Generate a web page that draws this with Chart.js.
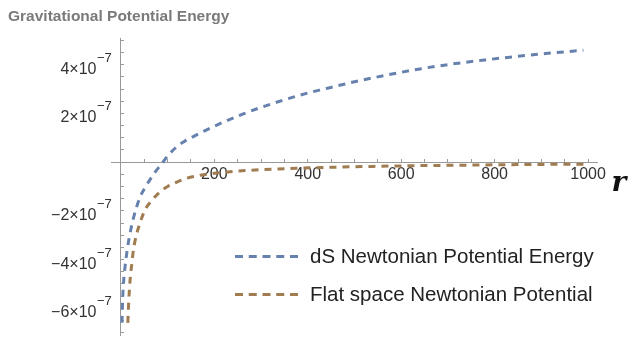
<!DOCTYPE html>
<html>
<head>
<meta charset="utf-8">
<script src="https://cdn.jsdelivr.net/npm/chart.js@4.4.1/dist/chart.umd.min.js"></script>
<style>
  html, body { margin: 0; padding: 0; background: #fff; }
  #wrap { width: 636px; height: 338px; }
</style>
</head>
<body>
<div id="wrap"><canvas id="potentialChart"></canvas></div>
<script>
// chart text
const chartTitle = "Gravitational Potential Energy";
const seriesNames = ["dS Newtonian Potential Energy", "Flat space Newtonian Potential"];
const seriesColors = ["#6781ae", "#a07c50"];
const xAxisLabel = "r";

// dS curve
const dsR = [2.5, 4, 6, 9, 13, 18, 27, 41, 55, 70, 90, 100, 120, 135, 150, 184, 220, 262, 300, 348, 400, 434, 500, 570, 640, 712, 780, 855, 920, 990];
const dsEnergy = [-6.6e-7, -5.6e-7, -4.9e-7, -4.3e-7, -3.7e-7, -3.1e-7, -2.3e-7, -1.45e-7, -0.95e-7, -0.5e-7, 0, 0.25e-7, 0.64e-7, 0.84e-7, 1.0e-7, 1.33e-7, 1.65e-7, 1.98e-7, 2.25e-7, 2.55e-7, 2.84e-7, 3.0e-7, 3.3e-7, 3.58e-7, 3.83e-7, 4.04e-7, 4.2e-7, 4.36e-7, 4.48e-7, 4.6e-7];

// flat space curve
const flatR = [15, 17, 20, 24, 27, 34, 41, 52, 63, 84, 100, 120, 141, 170, 200, 250, 300, 377, 450, 550, 650, 750, 850, 1000];
const flatEnergy = [-6.6e-7, -5.7e-7, -4.8e-7, -4.1e-7, -3.6e-7, -2.95e-7, -2.5e-7, -1.95e-7, -1.65e-7, -1.22e-7, -1.0e-7, -0.82e-7, -0.66e-7, -0.54e-7, -0.46e-7, -0.37e-7, -0.31e-7, -0.25e-7, -0.21e-7, -0.17e-7, -0.14e-7, -0.12e-7, -0.1e-7, -0.08e-7];

// tick labels
const xTickLabels = [200, 400, 600, 800, 1000];
const yTickValues = [-6e-7, -4e-7, -2e-7, 2e-7, 4e-7];
const yTickText = ["\u22126\u00d710", "\u22124\u00d710", "\u22122\u00d710", "2\u00d710", "4\u00d710"];
const yTickExp = "\u22127";

const FONT = "'Liberation Sans', Arial, sans-serif";

function toPoints(xs, ys) {
    return xs.map((x, i) => ({ x: x, y: ys[i] }));
}

// title, y labels with superscripts, axis label and legend
const overlayPlugin = {
    id: "overlay",
    afterDraw(chart) {
        const ctx = chart.ctx;
        const xs = chart.scales.x;
        const ys = chart.scales.y;
        const x0 = xs.getPixelForValue(0);
        const y0 = ys.getPixelForValue(0);
        ctx.save();

        ctx.font = "bold 15.5px " + FONT;
        ctx.fillStyle = "#7a7a7a";
        ctx.textAlign = "left";
        ctx.textBaseline = "alphabetic";
        ctx.fillText(chartTitle, 8, 21);

        ctx.fillStyle = "#333";
        ctx.textAlign = "right";
        yTickValues.forEach((v, i) => {
            const py = ys.getPixelForValue(v);
            const right = x0 - 9;
            ctx.font = "13px " + FONT;
            const expW = ctx.measureText(yTickExp).width;
            ctx.fillText(yTickExp, right, py - 3);
            ctx.font = "16px " + FONT;
            ctx.fillText(yTickText[i], right - expW - 0.5, py + 9);
        });

        // r label at the right end of the x axis
        ctx.font = "italic bold 28px 'DejaVu Serif', serif";
        ctx.fillStyle = "#111";
        ctx.textAlign = "center";
        ctx.fillText(xAxisLabel, chart.chartArea.right + 22, y0 + 29);

        // legend
        const legendRows = [256.5, 294.5];
        seriesNames.forEach((name, i) => {
            const ly = legendRows[i];
            ctx.beginPath();
            ctx.setLineDash([8, 5.75]);
            ctx.lineWidth = 3;
            ctx.strokeStyle = seriesColors[i];
            ctx.moveTo(235, ly);
            ctx.lineTo(299, ly);
            ctx.stroke();
            ctx.setLineDash([]);
            ctx.font = "20.5px " + FONT;
            ctx.fillStyle = "#222";
            ctx.textAlign = "left";
            ctx.textBaseline = "middle";
            ctx.fillText(name, 310, ly + 1);
        });
        ctx.restore();
    },
};

const ctx = document.getElementById("potentialChart").getContext("2d");
new Chart(ctx, {
    type: "line",
    data: {
        datasets: [
            {
                label: seriesNames[0],
                data: toPoints(dsR, dsEnergy),
                borderColor: seriesColors[0],
                borderWidth: 3,
                borderDash: [7, 6],
                pointRadius: 0,
                cubicInterpolationMode: "monotone",
                fill: false,
            },
            {
                label: seriesNames[1],
                data: toPoints(flatR, flatEnergy),
                borderColor: seriesColors[1],
                borderWidth: 3,
                borderDash: [7, 6],
                pointRadius: 0,
                cubicInterpolationMode: "monotone",
                fill: false,
            },
        ],
    },
    options: {
        responsive: true,
        maintainAspectRatio: false,
        animation: false,
        layout: {
            padding: { left: 111, right: 39, top: 38, bottom: 3 },
        },
        plugins: {
            legend: { display: false },
            title: { display: false },
            tooltip: { enabled: false },
        },
        scales: {
            x: {
                type: "linear",
                min: -21,
                max: 1019,
                position: { y: 0 },
                border: { color: "#999", width: 1 },
                grid: {
                    drawOnChartArea: false,
                    drawTicks: true,
                    tickLength: -4,
                    tickColor: "#999",
                },
                ticks: {
                    stepSize: 50,
                    includeBounds: false,
                    autoSkip: false,
                    maxRotation: 0,
                    padding: 7,
                    color: "#333",
                    font: { size: 16, family: FONT },
                    callback: (value) => (xTickLabels.includes(value) ? String(value) : ""),
                },
            },
            y: {
                type: "linear",
                min: -7.1e-7,
                max: 5.1e-7,
                position: { x: 0 },
                border: { color: "#999", width: 1 },
                grid: {
                    drawOnChartArea: false,
                    drawTicks: true,
                    tickLength: -4,
                    tickColor: "#999",
                },
                ticks: {
                    display: false,
                    stepSize: 5e-8,
                    includeBounds: false,
                    autoSkip: false,
                },
            },
        },
    },
    plugins: [overlayPlugin],
});
</script>
</body>
</html>
